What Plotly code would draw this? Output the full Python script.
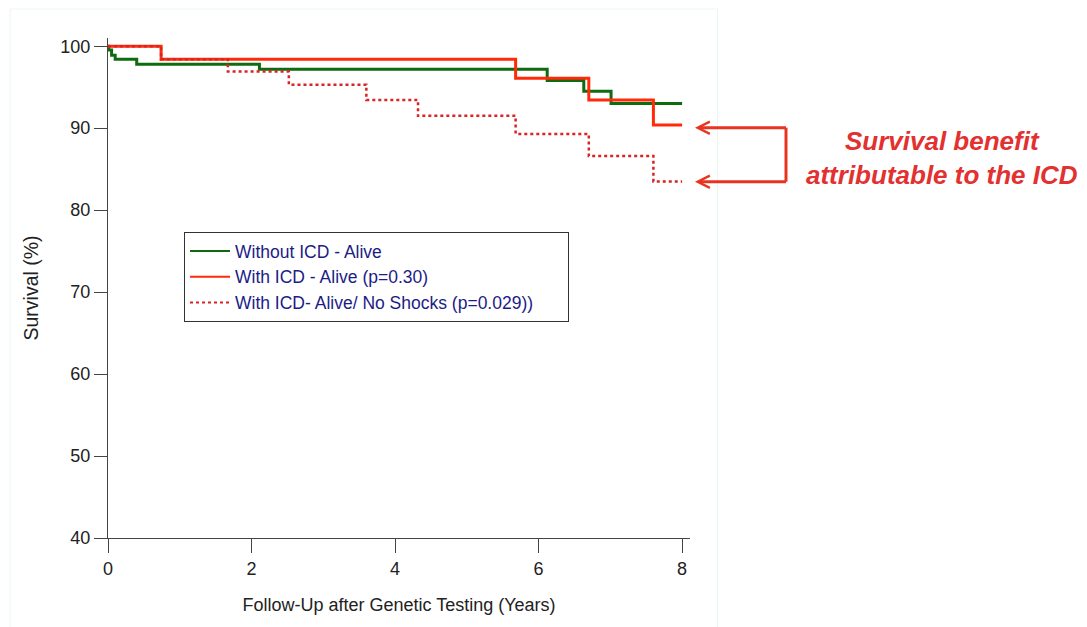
import plotly.graph_objects as go

# ---- data ----
green_t = [0, 0.01, 0.05, 0.10, 0.40, 2.11, 6.12, 6.63, 7.01, 8.0]
green_s = [100, 99.55, 98.9, 98.4, 97.8, 97.2, 95.8, 94.5, 93.0, 93.0]

red_t = [0, 0.74, 5.68, 6.70, 7.60, 8.0]
red_s = [100, 98.4, 96.1, 93.45, 90.4, 90.4]

dot_t = [0, 0.74, 1.67, 2.52, 3.60, 4.32, 5.68, 6.70, 7.60, 8.0]
dot_s = [100, 98.4, 96.9, 95.3, 93.45, 91.5, 89.3, 86.6, 83.5, 83.5]

series_names = [
    "Without ICD - Alive",
    "With ICD - Alive (p=0.30)",
    "With ICD- Alive/ No Shocks (p=0.029))",
]
x_ticks = [0, 2, 4, 6, 8]
y_ticks = [40, 50, 60, 70, 80, 90, 100]
x_title = "Follow-Up after Genetic Testing (Years)"
y_title = "Survival (%)"
callout = "Survival benefit<br>attributable to the ICD"

FONT = "Arial, 'Liberation Sans', sans-serif"
GREEN = "#0f6b0f"
RED = "#ff2a0a"
RED_DOT = "#d82424"
TXT_RED = "#e33030"
ARR_RED = "#e8341f"
PAD = "\u00a0" * 6

fig = go.Figure()
styles = [
    dict(color=GREEN, width=3),
    dict(color=RED, width=3),
    dict(color=RED_DOT, width=2.5, dash="dot"),
]
legend_styles = [
    dict(color=GREEN, width=2),
    dict(color=RED, width=2),
    dict(color=RED_DOT, width=2, dash="dot"),
]
for i, (tx, sy) in enumerate([(green_t, green_s), (red_t, red_s), (dot_t, dot_s)]):
    fig.add_trace(go.Scatter(x=tx, y=sy, mode="lines", line_shape="hv",
                             line=styles[i], name=series_names[i],
                             legendgroup=str(i), showlegend=False))
for i in range(3):
    fig.add_trace(go.Scatter(x=[None], y=[None], mode="lines",
                             line=legend_styles[i], name=series_names[i] + PAD,
                             legendgroup=str(i), showlegend=True))

L, R, T, B = 108, 397, 38, 89
W, H = 1087, 627
pw, ph = W - L - R, H - T - B


def px_x(px):
    return (px - L) / pw


def px_y(py):
    return (H - B - py) / ph


fig.update_layout(
    width=W, height=H,
    margin=dict(l=L, r=R, t=T, b=B, pad=0),
    paper_bgcolor="white", plot_bgcolor="white",
    font=dict(family=FONT, size=18, color="#222222"),
    showlegend=True,
    legend=dict(
        x=px_x(184), y=px_y(232), xanchor="left", yanchor="top",
        bordercolor="#333333", borderwidth=1, bgcolor="white",
        font=dict(family=FONT, size=17.5, color="#1c1c86"),
        itemwidth=40, tracegroupgap=0,
    ),
    xaxis=dict(
        range=[0, 8.11], tickvals=x_ticks, ticks="outside", ticklen=14,
        tickcolor="#444444", tickwidth=1, showline=True, linecolor="#444444",
        linewidth=1, showgrid=False, zeroline=False,
        tickfont=dict(size=18, color="#222222"),
        title=dict(text=x_title, font=dict(size=18, color="#222222"), standoff=20),
    ),
    yaxis=dict(
        range=[40, 101], tickvals=y_ticks, ticks="outside", ticklen=13,
        tickcolor="#444444", tickwidth=1, showline=True, linecolor="#444444",
        linewidth=1, showgrid=False, zeroline=False,
        tickfont=dict(size=18, color="#222222"),
        title=dict(text=y_title, font=dict(size=19.5, color="#222222"), standoff=16),
    ),
)

# faint border of the original chart image
fig.add_shape(type="rect", xref="paper", yref="paper",
              x0=px_x(10), x1=px_x(717.5), y0=px_y(660), y1=px_y(9),
              line=dict(color="#eaf7ea", width=1), layer="below")

# bracket with arrows
y_up, y_lo, x_br, x_tip = 127.7, 181.7, 786, 695
fig.add_shape(type="line", xref="paper", yref="paper",
              x0=px_x(x_br), x1=px_x(x_br), y0=px_y(y_up), y1=px_y(y_lo),
              line=dict(color=ARR_RED, width=3))
for yy in (y_up, y_lo):
    fig.add_annotation(xref="paper", yref="paper", x=px_x(x_tip), y=px_y(yy),
                       ax=x_br - x_tip + 1.5, ay=0, text="", showarrow=True,
                       arrowhead=5, arrowsize=0.8, arrowwidth=3,
                       arrowcolor=ARR_RED, standoff=0)

fig.add_annotation(xref="paper", yref="paper", x=px_x(942), y=px_y(158),
                   xanchor="center", yanchor="middle", showarrow=False,
                   text=callout, align="center",
                   font=dict(family=FONT, size=26, color=TXT_RED,
                             weight="bold", style="italic"))

fig.write_html("out.html", config={"displayModeBar": False},
               post_script="document.body.style.margin='0';")
